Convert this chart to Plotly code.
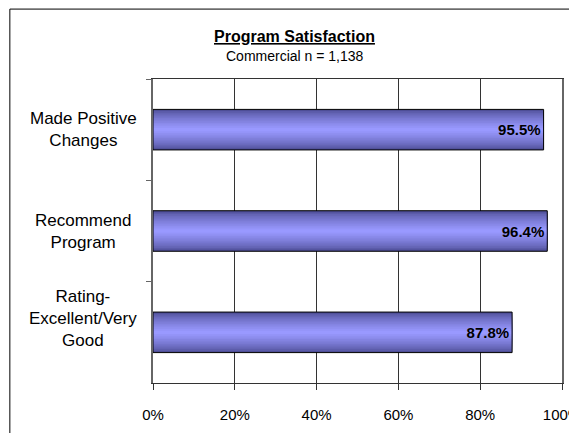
import plotly.graph_objects as go

# data
categories = ["Made Positive<br>Changes", "Recommend<br>Program", "Rating-<br>Excellent/Very<br>Good"]
values = [95.5, 96.4, 87.8]
value_labels = ["95.5%", "96.4%", "87.8%"]
x_ticks = [0, 20, 40, 60, 80, 100]
x_tick_labels = ["0%", "20%", "40%", "60%", "80%", "100%"]

FONT = "Liberation Sans, Arial, sans-serif"

dark = (78, 78, 150)
light = (153, 153, 255)
bar_w = 0.4
n_layers = 12

fig = go.Figure()

# nested overlay bars fake the vertical gradient of the original
for k in range(n_layers):
    t = k / (n_layers - 1)
    c = tuple(int(dark[i] + (light[i] - dark[i]) * (t ** 0.7)) for i in range(3))
    fig.add_trace(go.Bar(
        x=values, y=categories, orientation="h",
        width=bar_w * (1 - k / n_layers),
        marker=dict(color="rgb(%d,%d,%d)" % c, line=dict(width=0)),
        hoverinfo="skip", showlegend=False,
    ))

# outline + labels on top
fig.add_trace(go.Bar(
    x=values, y=categories, orientation="h", width=bar_w,
    marker=dict(color="rgba(0,0,0,0)", line=dict(color="black", width=1)),
    text=value_labels, textposition="inside", insidetextanchor="end",
    textangle=0, constraintext="none",
    textfont=dict(family=FONT, size=15, color="black", weight="bold"),
    showlegend=False,
))

# category labels, centred like the original (tick labels can only right-align)
label_shift = [0, 0, 14]
annotations = [
    dict(text=cat, xref="paper", yref="y", x=-0.171, y=cat, yshift=s,
         xanchor="center", yanchor="middle",
         showarrow=False, align="center", font=dict(size=17))
    for cat, s in zip(categories, label_shift)
]
annotations += [
    dict(text="<b><u>Program Satisfaction</u></b>", xref="paper", yref="paper",
         x=0.347, y=1.141, xanchor="center", yanchor="middle",
         showarrow=False, font=dict(size=16)),
    dict(text="Commercial n = 1,138", xref="paper", yref="paper",
         x=0.347, y=1.076, xanchor="center", yanchor="middle",
         showarrow=False, font=dict(size=14)),
]

fig.update_layout(
    width=569, height=425,
    margin=dict(l=145, r=15, t=71, b=50, autoexpand=False),
    barmode="overlay",
    paper_bgcolor="white", plot_bgcolor="white",
    font=dict(family=FONT, color="black"),
    xaxis=dict(
        range=[0, 100], tickvals=x_ticks, ticktext=x_tick_labels,
        showgrid=True, gridcolor="#333", gridwidth=1,
        showline=True, linecolor="#333", linewidth=1, mirror=True,
        ticks="outside", ticklen=6, tickcolor="#333", ticklabelstandoff=12,
        ticklabeloverflow="allow", automargin=False,
        tickfont=dict(size=15), zeroline=False, fixedrange=True,
    ),
    yaxis=dict(
        autorange="reversed", tickson="boundaries",
        ticks="outside", ticklen=5, tickcolor="#666",
        showline=True, linecolor="#666", linewidth=2, mirror=True,
        showgrid=False, showticklabels=False, fixedrange=True,
        automargin=False,
    ),
    shapes=[dict(type="rect", xref="paper", yref="paper",
                 x0=-0.35, x1=1.2, y0=-0.3, y1=1.23,
                 line=dict(color="black", width=1), layer="below")],
    annotations=annotations,
)

fig.write_html("out.html")
